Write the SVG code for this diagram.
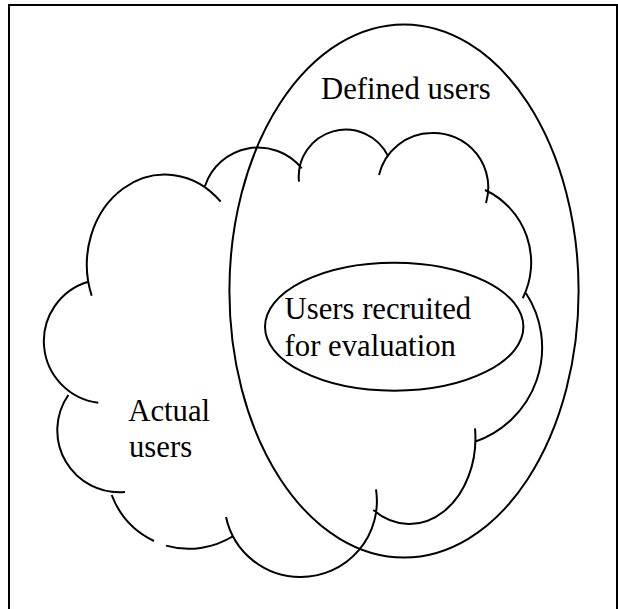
<svg xmlns="http://www.w3.org/2000/svg" width="618" height="609" viewBox="0 0 618 609">
<style>
.ln{fill:none;stroke:#000;stroke-width:2;}
.lbl{font-family:"Liberation Serif","Times New Roman",serif;font-size:30.7px;fill:#000;}
</style>
<rect x="0" y="0" width="618" height="609" fill="#fff"/>
<g id="frame">
<path class="ln" d="M9,609 V5 H617 V609"/>
</g>
<g id="actual-users">
<path class="ln" d="M88.3,281.7 A62,62 0 0 0 98.3,402.7
M68.3,395 A62,62 0 0 0 125,492
M111.7,495 A84,84 0 0 0 154,541
M166,545.6 A84,84 0 0 0 233.3,536
M226,517 A76,76 0 0 0 301,577 A76,76 0 0 0 376,489.3
M373.3,510 A66,86 0 0 0 475,428.3
M526,293.3 A99.5,99.5 0 0 1 475,441.7
M485,190 A80,80 0 0 1 522.7,298.3
M379,175 A54.5,54.5 0 0 1 431.5,133 A54.5,54.5 0 0 1 486,203
M299,181.7 A47,47 0 0 1 388.3,156.7
M205,186 A56,56 0 0 1 301.7,168.3
M91.7,295.7 A78,90 0 0 1 220.7,201.7"/>
<text class="lbl" x="128.3" y="421">Actual</text>
<text class="lbl" x="129" y="457">users</text>
</g>
<g id="defined-users">
<ellipse class="ln" cx="404" cy="291" rx="174.6" ry="266.5"/>
<text class="lbl" x="321" y="99">Defined users</text>
</g>
<g id="recruited-users">
<ellipse class="ln" cx="394.2" cy="326.7" rx="129.2" ry="64"/>
<text class="lbl" x="284.6" y="319.3">Users recruited</text>
<text class="lbl" x="284.6" y="355.5">for evaluation</text>
</g>
</svg>
